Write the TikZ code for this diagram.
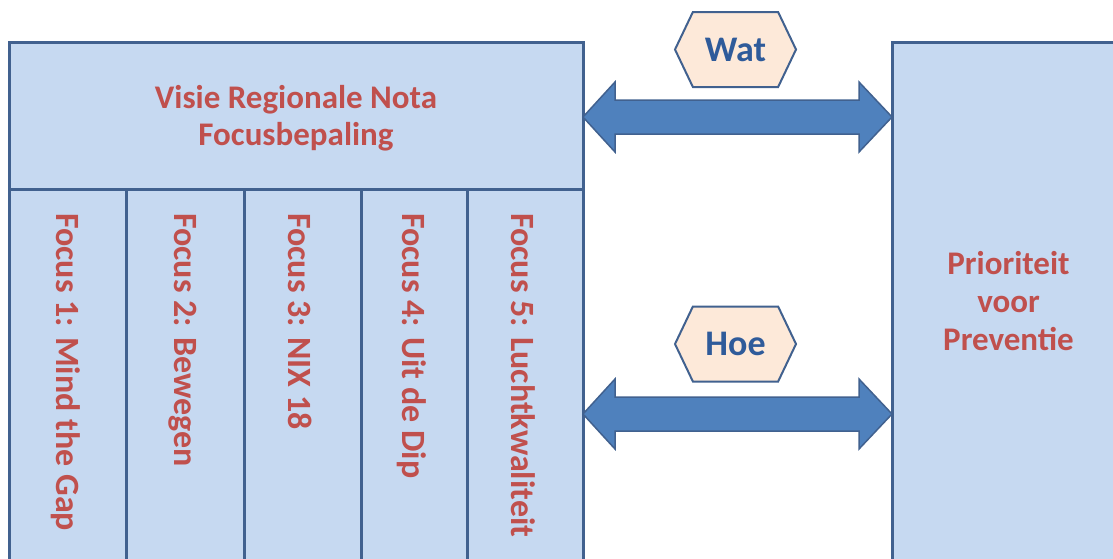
\documentclass[tikz,border=0pt]{standalone}
\usepackage{fontspec}
\setmainfont{Carlito}
\usetikzlibrary{shapes.symbols,calc}
\definecolor{vakblauw}{HTML}{C6D9F1}
\definecolor{randblauw}{HTML}{41618F}
\definecolor{pijlblauw}{HTML}{4F81BD}
\definecolor{perzik}{HTML}{FDE9D9}
\definecolor{tekstrood}{HTML}{C0504D}
\definecolor{woordblauw}{HTML}{2F5B9A}
\begin{document}
\begin{tikzpicture}[x=1pt,y=-1pt,
	vak/.style={draw=randblauw, fill=vakblauw, line width=3pt, inner sep=0pt, outer sep=0pt, anchor=north west},
	kop/.style={text=tekstrood, align=center, font=\fontsize{33}{37}\selectfont\bfseries},
	focustekst/.style={rotate=-90, anchor=west, inner sep=0pt, text=tekstrood, font=\fontsize{34}{40}\selectfont\bfseries},
	zeshoek/.style={signal, signal to=west and east, signal pointer angle=129, draw=randblauw, fill=perzik, line width=2pt, minimum width=121pt, minimum height=75pt, inner sep=0pt, text=woordblauw, font=\fontsize{36}{36}\selectfont\bfseries},
	pijl/.style={draw=randblauw, fill=pijlblauw, line width=1.5pt, line join=miter}]
	\newcommand{\dubbelpijl}[2]{
		\draw[pijl] (#1) -- ++(32,-35) -- ++(0,18) -- ($(#2)+(-33,-17)$) -- ++(0,-18) -- (#2)
			-- ++(-33,35) -- ++(0,-18) -- ($(#1)+(32,17)$) -- ++(0,18) -- cycle;
	}
	\useasboundingbox (0,0) rectangle (1113,558);
	\clip (0,0) rectangle (1113,558);
	%Left block: vision and focus columns
	\node[vak, minimum width=574pt, minimum height=147pt] (visie) at (9,42) {};
	\node[kop] (visietekst) at (296,118) {Visie Regionale Nota\\Focusbepaling};
	\foreach \i/\xl/\xr/\tekst in {1/9/126/{Focus 1: Mind the Gap}, 2/126/244/{Focus 2: Bewegen}, 3/244/361/{Focus 3: NIX 18}, 4/361/467/{Focus 4: Uit de Dip}, 5/467/583/{Focus 5: Luchtkwaliteit}} {
		\node[vak, minimum width={(\xr-\xl)*1pt}, minimum height=371pt] (focus\i) at (\xl,189) {};
		\node[focustekst] (focustekst\i) at ({(\xl+\xr)/2-2},213) {\tekst};
	}
	%Right block
	\node[vak, kop, minimum width=233pt, minimum height=518pt, font=\fontsize{33}{38}\selectfont\bfseries] (prioriteit) at (892,42) {Prioriteit\\voor\\Preventie};
	%The two arrows
	\coordinate (watlinks) at (visie.east |- 0,117);
	\coordinate (watrechts) at (prioriteit.west |- 0,117);
	\coordinate (hoelinks) at (visie.east |- 0,414);
	\coordinate (hoerechts) at (prioriteit.west |- 0,414);
	\dubbelpijl{watlinks}{watrechts}
	\dubbelpijl{hoelinks}{hoerechts}
	%Labels above the arrows
	\node[zeshoek] (wat) at (735.5,49.5) {Wat};
	\node[zeshoek] (hoe) at (735.5,344) {Hoe};
\end{tikzpicture}
\end{document}
